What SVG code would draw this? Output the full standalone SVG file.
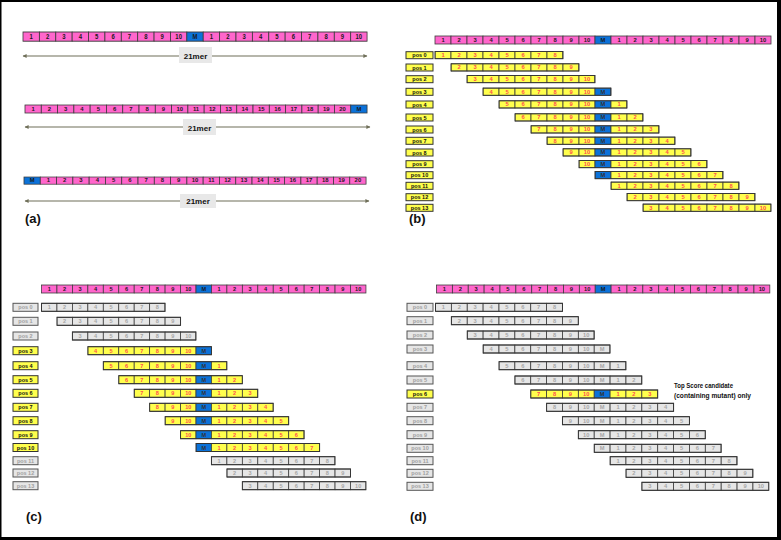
<svg xmlns="http://www.w3.org/2000/svg" xmlns:xlink="http://www.w3.org/1999/xlink" width="781" height="540" viewBox="0 0 781 540">
<style>
.strip rect{fill:var(--c);stroke:#3c3c3c;stroke-width:.8}
.strip rect.m{fill:var(--mc)}
.strip text{font:bold 5.8px "Liberation Sans",Arial,sans-serif;text-anchor:middle;fill:var(--t)}
.strip tspan.m{fill:var(--mt)}
.pink{--c:#ff66cc;--t:#1a1a1a;--mc:#0b72d9;--mt:#1a1a1a}
.yel{--c:#ffff4d;--t:#ff4f4f;--mc:#0b72d9;--mt:#333}
.gry{--c:#e6e6e6;--t:#a6a6a6;--mc:#e6e6e6;--mt:#a6a6a6}
.ol{fill:none;stroke:#333;stroke-width:1}
.lby{fill:#ffff4d;stroke:#333;stroke-width:1}
.lbg{fill:#e6e6e6;stroke:#555;stroke-width:1}
.lt{font:bold 5.5px "Liberation Sans",Arial,sans-serif;text-anchor:middle;fill:#111}
.ltg{font:bold 5.5px "Liberation Sans",Arial,sans-serif;text-anchor:middle;fill:#a0a0a0}
.pl{font:bold 13px "Liberation Sans",Arial,sans-serif;fill:#111}
.mer{fill:#e8e8e8}
.mt{font:bold 8px "Liberation Sans",Arial,sans-serif;text-anchor:middle;fill:#111}
.arr{stroke:#6e6e58;stroke-width:1.2;fill:none;marker-start:url(#ah);marker-end:url(#ah)}
.note{font:bold 7px "Liberation Sans",Arial,sans-serif;fill:#111}
</style>
<defs>
<marker id="ah" viewBox="0 0 10 10" refX="9" refY="5" markerWidth="5" markerHeight="4" orient="auto-start-reverse" markerUnits="userSpaceOnUse"><path d="M0,0 L10,5 L0,10 z" fill="#6e6e58"/></marker>
<g id="seqA" class="strip">
<rect x="0" width="16" height="8"/><rect x="16" width="16" height="8"/><rect x="32" width="16" height="8"/><rect x="48" width="16" height="8"/><rect x="64" width="16" height="8"/><rect x="80" width="16" height="8"/><rect x="96" width="16" height="8"/><rect x="112" width="16" height="8"/><rect x="128" width="16" height="8"/><rect x="144" width="16" height="8"/><rect class="m" x="160" width="16" height="8"/><rect x="176" width="16" height="8"/><rect x="192" width="16" height="8"/><rect x="208" width="16" height="8"/><rect x="224" width="16" height="8"/><rect x="240" width="16" height="8"/><rect x="256" width="16" height="8"/><rect x="272" width="16" height="8"/><rect x="288" width="16" height="8"/><rect x="304" width="16" height="8"/><rect x="320" width="16" height="8"/>
<text y="6.1"><tspan x="8">1</tspan><tspan x="24">2</tspan><tspan x="40">3</tspan><tspan x="56">4</tspan><tspan x="72">5</tspan><tspan x="88">6</tspan><tspan x="104">7</tspan><tspan x="120">8</tspan><tspan x="136">9</tspan><tspan x="152">10</tspan><tspan class="m" x="168">M</tspan><tspan x="184">1</tspan><tspan x="200">2</tspan><tspan x="216">3</tspan><tspan x="232">4</tspan><tspan x="248">5</tspan><tspan x="264">6</tspan><tspan x="280">7</tspan><tspan x="296">8</tspan><tspan x="312">9</tspan><tspan x="328">10</tspan></text>
</g>
<g id="seqB" class="strip">
<rect x="0" width="16" height="8"/><rect x="16" width="16" height="8"/><rect x="32" width="16" height="8"/><rect x="48" width="16" height="8"/><rect x="64" width="16" height="8"/><rect x="80" width="16" height="8"/><rect x="96" width="16" height="8"/><rect x="112" width="16" height="8"/><rect x="128" width="16" height="8"/><rect x="144" width="16" height="8"/><rect x="160" width="16" height="8"/><rect x="176" width="16" height="8"/><rect x="192" width="16" height="8"/><rect x="208" width="16" height="8"/><rect x="224" width="16" height="8"/><rect x="240" width="16" height="8"/><rect x="256" width="16" height="8"/><rect x="272" width="16" height="8"/><rect x="288" width="16" height="8"/><rect x="304" width="16" height="8"/><rect class="m" x="320" width="16" height="8"/>
<text y="6.1"><tspan x="8">1</tspan><tspan x="24">2</tspan><tspan x="40">3</tspan><tspan x="56">4</tspan><tspan x="72">5</tspan><tspan x="88">6</tspan><tspan x="104">7</tspan><tspan x="120">8</tspan><tspan x="136">9</tspan><tspan x="152">10</tspan><tspan x="168">11</tspan><tspan x="184">12</tspan><tspan x="200">13</tspan><tspan x="216">14</tspan><tspan x="232">15</tspan><tspan x="248">16</tspan><tspan x="264">17</tspan><tspan x="280">18</tspan><tspan x="296">19</tspan><tspan x="312">20</tspan><tspan class="m" x="328">M</tspan></text>
</g>
<g id="seqC" class="strip">
<rect class="m" x="0" width="16" height="8"/><rect x="16" width="16" height="8"/><rect x="32" width="16" height="8"/><rect x="48" width="16" height="8"/><rect x="64" width="16" height="8"/><rect x="80" width="16" height="8"/><rect x="96" width="16" height="8"/><rect x="112" width="16" height="8"/><rect x="128" width="16" height="8"/><rect x="144" width="16" height="8"/><rect x="160" width="16" height="8"/><rect x="176" width="16" height="8"/><rect x="192" width="16" height="8"/><rect x="208" width="16" height="8"/><rect x="224" width="16" height="8"/><rect x="240" width="16" height="8"/><rect x="256" width="16" height="8"/><rect x="272" width="16" height="8"/><rect x="288" width="16" height="8"/><rect x="304" width="16" height="8"/><rect x="320" width="16" height="8"/>
<text y="6.1"><tspan class="m" x="8">M</tspan><tspan x="24">1</tspan><tspan x="40">2</tspan><tspan x="56">3</tspan><tspan x="72">4</tspan><tspan x="88">5</tspan><tspan x="104">6</tspan><tspan x="120">7</tspan><tspan x="136">8</tspan><tspan x="152">9</tspan><tspan x="168">10</tspan><tspan x="184">11</tspan><tspan x="200">12</tspan><tspan x="216">13</tspan><tspan x="232">14</tspan><tspan x="248">15</tspan><tspan x="264">16</tspan><tspan x="280">17</tspan><tspan x="296">18</tspan><tspan x="312">19</tspan><tspan x="328">20</tspan></text>
</g>
<clipPath id="k0"><rect x="0" y="-2" width="128" height="12"/></clipPath>
<clipPath id="k1"><rect x="16" y="-2" width="128" height="12"/></clipPath>
<clipPath id="k2"><rect x="32" y="-2" width="128" height="12"/></clipPath>
<clipPath id="k3"><rect x="48" y="-2" width="128" height="12"/></clipPath>
<clipPath id="k4"><rect x="64" y="-2" width="128" height="12"/></clipPath>
<clipPath id="k5"><rect x="80" y="-2" width="128" height="12"/></clipPath>
<clipPath id="k6"><rect x="96" y="-2" width="128" height="12"/></clipPath>
<clipPath id="k7"><rect x="112" y="-2" width="128" height="12"/></clipPath>
<clipPath id="k8"><rect x="128" y="-2" width="128" height="12"/></clipPath>
<clipPath id="k9"><rect x="144" y="-2" width="128" height="12"/></clipPath>
<clipPath id="k10"><rect x="160" y="-2" width="128" height="12"/></clipPath>
<clipPath id="k11"><rect x="176" y="-2" width="128" height="12"/></clipPath>
<clipPath id="k12"><rect x="192" y="-2" width="128" height="12"/></clipPath>
<clipPath id="k13"><rect x="208" y="-2" width="128" height="12"/></clipPath>
</defs>
<rect width="781" height="540" fill="#fff"/>
<g id="frame" fill="#000"><rect x="0" y="0" width="781" height="2"/><rect x="0" y="0" width="1.5" height="540"/><rect x="777" y="0" width="4" height="540"/><rect x="0" y="537" width="781" height="3"/></g>

<g id="connectors">
<line class="arr" x1="23" y1="56" x2="367" y2="56"/>
<line class="arr" x1="25" y1="127" x2="370" y2="127"/>
<line class="arr" x1="25" y1="201" x2="369" y2="201"/>
</g>

<g id="panel-a">
<g id="a-seq1"><use href="#seqA" class="pink" transform="translate(23,32) scale(1.024,1.15)"/></g>
<g id="a-label1"><rect class="mer" x="179" y="47" width="33" height="16"/><text class="mt" x="195.5" y="58.5">21mer</text></g>
<g id="a-seq2"><use href="#seqB" class="pink" transform="translate(25,105) scale(1.018,1)"/></g>
<g id="a-label2"><rect class="mer" x="183" y="119" width="33" height="16"/><text class="mt" x="199.5" y="130.5">21mer</text></g>
<g id="a-seq3"><use href="#seqC" class="pink" transform="translate(24,177) scale(1.018,0.9)"/></g>
<g id="a-label3"><rect class="mer" x="180" y="194" width="36" height="14"/><text class="mt" x="198" y="204">21mer</text></g>
<text class="pl" x="25" y="223">(a)</text>
</g>

<g id="panel-b">
<g id="b-ref"><use href="#seqA" class="pink" transform="translate(435,36)"/></g>
<g id="b-pos0"><rect class="lby" x="406" y="51.7" width="27" height="7"/><text class="lt" x="419.5" y="57.2">pos 0</text><g transform="translate(435,51.5) scale(1,0.9)"><use href="#seqA" class="yel" clip-path="url(#k0)"/><rect class="ol" x="0" width="128" height="8"/></g></g>
<g id="b-pos1"><rect class="lby" x="406" y="64" width="27" height="7"/><text class="lt" x="419.5" y="69.5">pos 1</text><g transform="translate(435,63.8) scale(1,0.9)"><use href="#seqA" class="yel" clip-path="url(#k1)"/><rect class="ol" x="16" width="128" height="8"/></g></g>
<g id="b-pos2"><rect class="lby" x="406" y="75.7" width="27" height="7"/><text class="lt" x="419.5" y="81.2">pos 2</text><g transform="translate(435,75.5) scale(1,0.9)"><use href="#seqA" class="yel" clip-path="url(#k2)"/><rect class="ol" x="32" width="128" height="8"/></g></g>
<g id="b-pos3"><rect class="lby" x="406" y="88.3" width="27" height="7"/><text class="lt" x="419.5" y="93.8">pos 3</text><g transform="translate(435,88.1) scale(1,0.9)"><use href="#seqA" class="yel" clip-path="url(#k3)"/><rect class="ol" x="48" width="128" height="8"/></g></g>
<g id="b-pos4"><rect class="lby" x="406" y="101" width="27" height="7"/><text class="lt" x="419.5" y="106.5">pos 4</text><g transform="translate(435,100.8) scale(1,0.9)"><use href="#seqA" class="yel" clip-path="url(#k4)"/><rect class="ol" x="64" width="128" height="8"/></g></g>
<g id="b-pos5"><rect class="lby" x="406" y="114" width="27" height="7"/><text class="lt" x="419.5" y="119.5">pos 5</text><g transform="translate(435,113.8) scale(1,0.9)"><use href="#seqA" class="yel" clip-path="url(#k5)"/><rect class="ol" x="80" width="128" height="8"/></g></g>
<g id="b-pos6"><rect class="lby" x="406" y="126" width="27" height="7"/><text class="lt" x="419.5" y="131.5">pos 6</text><g transform="translate(435,125.8) scale(1,0.9)"><use href="#seqA" class="yel" clip-path="url(#k6)"/><rect class="ol" x="96" width="128" height="8"/></g></g>
<g id="b-pos7"><rect class="lby" x="406" y="137.3" width="27" height="7"/><text class="lt" x="419.5" y="142.8">pos 7</text><g transform="translate(435,137.1) scale(1,0.9)"><use href="#seqA" class="yel" clip-path="url(#k7)"/><rect class="ol" x="112" width="128" height="8"/></g></g>
<g id="b-pos8"><rect class="lby" x="406" y="149" width="27" height="7"/><text class="lt" x="419.5" y="154.5">pos 8</text><g transform="translate(435,148.8) scale(1,0.9)"><use href="#seqA" class="yel" clip-path="url(#k8)"/><rect class="ol" x="128" width="128" height="8"/></g></g>
<g id="b-pos9"><rect class="lby" x="406" y="160.7" width="27" height="7"/><text class="lt" x="419.5" y="166.2">pos 9</text><g transform="translate(435,160.5) scale(1,0.9)"><use href="#seqA" class="yel" clip-path="url(#k9)"/><rect class="ol" x="144" width="128" height="8"/></g></g>
<g id="b-pos10"><rect class="lby" x="406" y="171.7" width="27" height="7"/><text class="lt" x="419.5" y="177.2">pos 10</text><g transform="translate(435,171.5) scale(1,0.9)"><use href="#seqA" class="yel" clip-path="url(#k10)"/><rect class="ol" x="160" width="128" height="8"/></g></g>
<g id="b-pos11"><rect class="lby" x="406" y="182.3" width="27" height="7"/><text class="lt" x="419.5" y="187.8">pos 11</text><g transform="translate(435,182.1) scale(1,0.9)"><use href="#seqA" class="yel" clip-path="url(#k11)"/><rect class="ol" x="176" width="128" height="8"/></g></g>
<g id="b-pos12"><rect class="lby" x="406" y="193.7" width="27" height="7"/><text class="lt" x="419.5" y="199.2">pos 12</text><g transform="translate(435,193.5) scale(1,0.9)"><use href="#seqA" class="yel" clip-path="url(#k12)"/><rect class="ol" x="192" width="128" height="8"/></g></g>
<g id="b-pos13"><rect class="lby" x="406" y="204.3" width="27" height="7"/><text class="lt" x="419.5" y="209.8">pos 13</text><g transform="translate(435,204.1) scale(1,0.9)"><use href="#seqA" class="yel" clip-path="url(#k13)"/><rect class="ol" x="208" width="128" height="8"/></g></g>
<text class="pl" x="409" y="223">(b)</text>
</g>

<g id="panel-c">
<g id="c-ref"><use href="#seqA" class="pink" transform="translate(41.5,285) scale(0.9656,1)"/></g>
<g id="c-pos0"><rect class="lbg" x="13" y="303.3" width="25" height="8"/><text class="ltg" x="25.5" y="309.3">pos 0</text><g transform="translate(41.5,303.3) scale(0.9656,1)"><use href="#seqA" class="gry" clip-path="url(#k0)"/><rect class="ol" x="0" width="128" height="8"/></g></g>
<g id="c-pos1"><rect class="lbg" x="13" y="317.3" width="25" height="8"/><text class="ltg" x="25.5" y="323.3">pos 1</text><g transform="translate(41.5,317.3) scale(0.9656,1)"><use href="#seqA" class="gry" clip-path="url(#k1)"/><rect class="ol" x="16" width="128" height="8"/></g></g>
<g id="c-pos2"><rect class="lbg" x="13" y="332" width="25" height="8"/><text class="ltg" x="25.5" y="338">pos 2</text><g transform="translate(41.5,332) scale(0.9656,1)"><use href="#seqA" class="gry" clip-path="url(#k2)"/><rect class="ol" x="32" width="128" height="8"/></g></g>
<g id="c-pos3"><rect class="lby" x="13" y="346.7" width="25" height="8"/><text class="lt" x="25.5" y="352.7">pos 3</text><g transform="translate(41.5,346.7) scale(0.9656,1)"><use href="#seqA" class="yel" clip-path="url(#k3)"/><rect class="ol" x="48" width="128" height="8"/></g></g>
<g id="c-pos4"><rect class="lby" x="13" y="361.7" width="25" height="8"/><text class="lt" x="25.5" y="367.7">pos 4</text><g transform="translate(41.5,361.7) scale(0.9656,1)"><use href="#seqA" class="yel" clip-path="url(#k4)"/><rect class="ol" x="64" width="128" height="8"/></g></g>
<g id="c-pos5"><rect class="lby" x="13" y="375.7" width="25" height="8"/><text class="lt" x="25.5" y="381.7">pos 5</text><g transform="translate(41.5,375.7) scale(0.9656,1)"><use href="#seqA" class="yel" clip-path="url(#k5)"/><rect class="ol" x="80" width="128" height="8"/></g></g>
<g id="c-pos6"><rect class="lby" x="13" y="389.3" width="25" height="8"/><text class="lt" x="25.5" y="395.3">pos 6</text><g transform="translate(41.5,389.3) scale(0.9656,1)"><use href="#seqA" class="yel" clip-path="url(#k6)"/><rect class="ol" x="96" width="128" height="8"/></g></g>
<g id="c-pos7"><rect class="lby" x="13" y="403.3" width="25" height="8"/><text class="lt" x="25.5" y="409.3">pos 7</text><g transform="translate(41.5,403.3) scale(0.9656,1)"><use href="#seqA" class="yel" clip-path="url(#k7)"/><rect class="ol" x="112" width="128" height="8"/></g></g>
<g id="c-pos8"><rect class="lby" x="13" y="416.7" width="25" height="8"/><text class="lt" x="25.5" y="422.7">pos 8</text><g transform="translate(41.5,416.7) scale(0.9656,1)"><use href="#seqA" class="yel" clip-path="url(#k8)"/><rect class="ol" x="128" width="128" height="8"/></g></g>
<g id="c-pos9"><rect class="lby" x="13" y="430.7" width="25" height="8"/><text class="lt" x="25.5" y="436.7">pos 9</text><g transform="translate(41.5,430.7) scale(0.9656,1)"><use href="#seqA" class="yel" clip-path="url(#k9)"/><rect class="ol" x="144" width="128" height="8"/></g></g>
<g id="c-pos10"><rect class="lby" x="13" y="443.5" width="25" height="8"/><text class="lt" x="25.5" y="449.5">pos 10</text><g transform="translate(41.5,443.5) scale(0.9656,1)"><use href="#seqA" class="yel" clip-path="url(#k10)"/><rect class="ol" x="160" width="128" height="8"/></g></g>
<g id="c-pos11"><rect class="lbg" x="13" y="456.7" width="25" height="8"/><text class="ltg" x="25.5" y="462.7">pos 11</text><g transform="translate(41.5,456.7) scale(0.9656,1)"><use href="#seqA" class="gry" clip-path="url(#k11)"/><rect class="ol" x="176" width="128" height="8"/></g></g>
<g id="c-pos12"><rect class="lbg" x="13" y="469" width="25" height="8"/><text class="ltg" x="25.5" y="475">pos 12</text><g transform="translate(41.5,469) scale(0.9656,1)"><use href="#seqA" class="gry" clip-path="url(#k12)"/><rect class="ol" x="192" width="128" height="8"/></g></g>
<g id="c-pos13"><rect class="lbg" x="13" y="481.7" width="25" height="8"/><text class="ltg" x="25.5" y="487.7">pos 13</text><g transform="translate(41.5,481.7) scale(0.9656,1)"><use href="#seqA" class="gry" clip-path="url(#k13)"/><rect class="ol" x="208" width="128" height="8"/></g></g>
<text class="pl" x="26" y="521">(c)</text>
</g>

<g id="panel-d">
<g id="d-ref"><use href="#seqA" class="pink" transform="translate(436.5,285) scale(0.992,1)"/></g>
<g id="d-pos0"><rect class="lbg" x="407" y="303.3" width="26" height="8"/><text class="ltg" x="420" y="309.3">pos 0</text><g transform="translate(435.5,303.3) scale(0.992,1)"><use href="#seqA" class="gry" clip-path="url(#k0)"/><rect class="ol" x="0" width="128" height="8"/></g></g>
<g id="d-pos1"><rect class="lbg" x="407" y="316.7" width="26" height="8"/><text class="ltg" x="420" y="322.7">pos 1</text><g transform="translate(435.5,316.7) scale(0.992,1)"><use href="#seqA" class="gry" clip-path="url(#k1)"/><rect class="ol" x="16" width="128" height="8"/></g></g>
<g id="d-pos2"><rect class="lbg" x="407" y="331" width="26" height="8"/><text class="ltg" x="420" y="337">pos 2</text><g transform="translate(435.5,331) scale(0.992,1)"><use href="#seqA" class="gry" clip-path="url(#k2)"/><rect class="ol" x="32" width="128" height="8"/></g></g>
<g id="d-pos3"><rect class="lbg" x="407" y="345" width="26" height="8"/><text class="ltg" x="420" y="351">pos 3</text><g transform="translate(435.5,345) scale(0.992,1)"><use href="#seqA" class="gry" clip-path="url(#k3)"/><rect class="ol" x="48" width="128" height="8"/></g></g>
<g id="d-pos4"><rect class="lbg" x="407" y="361.7" width="26" height="8"/><text class="ltg" x="420" y="367.7">pos 4</text><g transform="translate(435.5,361.7) scale(0.992,1)"><use href="#seqA" class="gry" clip-path="url(#k4)"/><rect class="ol" x="64" width="128" height="8"/></g></g>
<g id="d-pos5"><rect class="lbg" x="407" y="376" width="26" height="8"/><text class="ltg" x="420" y="382">pos 5</text><g transform="translate(435.5,376) scale(0.992,1)"><use href="#seqA" class="gry" clip-path="url(#k5)"/><rect class="ol" x="80" width="128" height="8"/></g></g>
<g id="d-pos6"><rect class="lby" x="407" y="390" width="26" height="8"/><text class="lt" x="420" y="396">pos 6</text><g transform="translate(435.5,390) scale(0.992,1)"><use href="#seqA" class="yel" clip-path="url(#k6)"/><rect class="ol" x="96" width="128" height="8"/></g></g>
<g id="d-pos7"><rect class="lbg" x="407" y="403.3" width="26" height="8"/><text class="ltg" x="420" y="409.3">pos 7</text><g transform="translate(435.5,403.3) scale(0.992,1)"><use href="#seqA" class="gry" clip-path="url(#k7)"/><rect class="ol" x="112" width="128" height="8"/></g></g>
<g id="d-pos8"><rect class="lbg" x="407" y="416.7" width="26" height="8"/><text class="ltg" x="420" y="422.7">pos 8</text><g transform="translate(435.5,416.7) scale(0.992,1)"><use href="#seqA" class="gry" clip-path="url(#k8)"/><rect class="ol" x="128" width="128" height="8"/></g></g>
<g id="d-pos9"><rect class="lbg" x="407" y="430.7" width="26" height="8"/><text class="ltg" x="420" y="436.7">pos 9</text><g transform="translate(435.5,430.7) scale(0.992,1)"><use href="#seqA" class="gry" clip-path="url(#k9)"/><rect class="ol" x="144" width="128" height="8"/></g></g>
<g id="d-pos10"><rect class="lbg" x="407" y="444.3" width="26" height="8"/><text class="ltg" x="420" y="450.3">pos 10</text><g transform="translate(435.5,444.3) scale(0.992,1)"><use href="#seqA" class="gry" clip-path="url(#k10)"/><rect class="ol" x="160" width="128" height="8"/></g></g>
<g id="d-pos11"><rect class="lbg" x="407" y="456.7" width="26" height="8"/><text class="ltg" x="420" y="462.7">pos 11</text><g transform="translate(435.5,456.7) scale(0.992,1)"><use href="#seqA" class="gry" clip-path="url(#k11)"/><rect class="ol" x="176" width="128" height="8"/></g></g>
<g id="d-pos12"><rect class="lbg" x="407" y="469.3" width="26" height="8"/><text class="ltg" x="420" y="475.3">pos 12</text><g transform="translate(435.5,469.3) scale(0.992,1)"><use href="#seqA" class="gry" clip-path="url(#k12)"/><rect class="ol" x="192" width="128" height="8"/></g></g>
<g id="d-pos13"><rect class="lbg" x="407" y="482.3" width="26" height="8"/><text class="ltg" x="420" y="488.3">pos 13</text><g transform="translate(435.5,482.3) scale(0.992,1)"><use href="#seqA" class="gry" clip-path="url(#k13)"/><rect class="ol" x="208" width="128" height="8"/></g></g>
<g id="d-note"><text class="note" x="674" y="388" textLength="59" lengthAdjust="spacingAndGlyphs">Top Score candidate</text><text class="note" x="674" y="398" textLength="77" lengthAdjust="spacingAndGlyphs">(containing mutant) only</text></g>
<text class="pl" x="410" y="521">(d)</text>
</g>
</svg>
